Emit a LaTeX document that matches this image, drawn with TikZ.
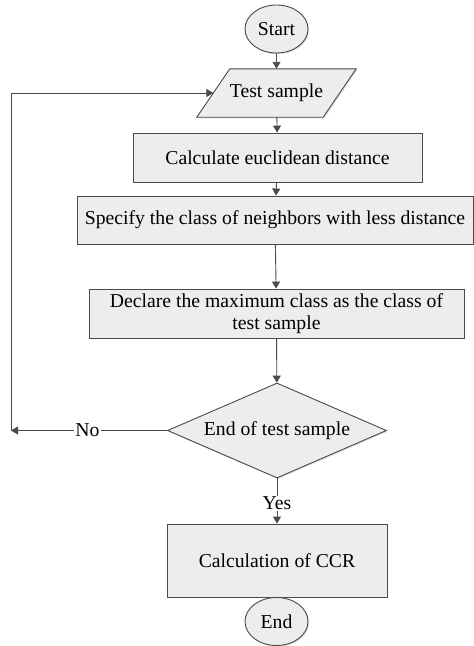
\documentclass[tikz,border=0pt]{standalone}
\usepackage{fontspec}
\setmainfont{Liberation Serif}
\usetikzlibrary{shapes.geometric,arrows.meta,shadows,calc,backgrounds}
\definecolor{boxfill}{HTML}{EDEDED}
\definecolor{boxline}{HTML}{4A4A4A}
\begin{document}
\begin{tikzpicture}[x=1pt,y=1pt,
  shade/.style={drop shadow={shadow xshift=1.2pt, shadow yshift=-1.2pt, opacity=0.25}},
  base/.style={draw=boxline, line width=0.9pt, fill=boxfill, inner sep=0pt, align=center,
     font=\fontsize{19.7}{21.5}\selectfont, shade},
  terminal/.style={base, ellipse, minimum width=63pt, minimum height=48pt},
  procbox/.style={base, rectangle},
  iotext/.style={inner sep=0pt, align=center, font=\fontsize{19.7}{21.5}\selectfont,
     minimum width=126pt, minimum height=48pt},
  iofill/.style={draw=boxline, line width=0.9pt, fill=boxfill, shade},
  decision/.style={base, diamond, aspect=2.3, minimum width=219pt, minimum height=95pt},
  arr/.style={draw=boxline, line width=0.9pt, -{Triangle[width=8pt,length=7pt]}},
  ln/.style={draw=boxline, line width=0.9pt},
  lbl/.style={fill=white, inner sep=1pt, font=\fontsize{19.7}{21.5}\selectfont}]
\useasboundingbox (0,0) rectangle (474,-646);
\node[terminal] (start) at (276.5,-29) {Start};
\node[iotext] (ts) at (276.5,-93) {Test sample};
\begin{scope}[on background layer]
\draw[iofill] ($(ts.south west)+(-16.5,0)$) -- ($(ts.south east)+(-16.5,0)$)
  -- ($(ts.north east)+(16.5,0)$) -- ($(ts.north west)+(16.5,0)$) -- cycle;
\end{scope}
\node[procbox, minimum width=289pt, minimum height=49pt] (calc) at (277.5,-157.5) {Calculate euclidean distance};
\node[procbox, minimum width=396pt, minimum height=48pt] (spec) at (275,-220) {Specify the class of neighbors with less distance};
\node[procbox, minimum width=375pt, minimum height=49pt] (decl) at (276.5,-313.5) {Declare the maximum class as the class of\\test sample};
\node[decision] (dec) at (277,-430.5) {End of test sample};
\node[procbox, minimum width=220pt, minimum height=73pt] (ccr) at (277,-560.5) {Calculation of CCR};
\node[terminal] (end) at (276.5,-621.5) {End};
\coordinate (lc) at (11,-430.5);
\draw[arr] (start) -- (ts);
\draw[arr] (ts) -- (calc);
\draw[arr] (calc) -- (spec);
\draw[arr] (spec) -- (decl);
\draw[arr] (decl) -- (dec);
\draw[arr] (dec.west) -- node[lbl, pos=0.51]{No} (lc);
\draw[arr] (lc) |- (ts.west);
\draw[arr] (dec.south) -- node[lbl, pos=0.55]{Yes} (ccr.north);
\draw[ln] (ccr.south) -- (end.north);
\end{tikzpicture}
\end{document}
